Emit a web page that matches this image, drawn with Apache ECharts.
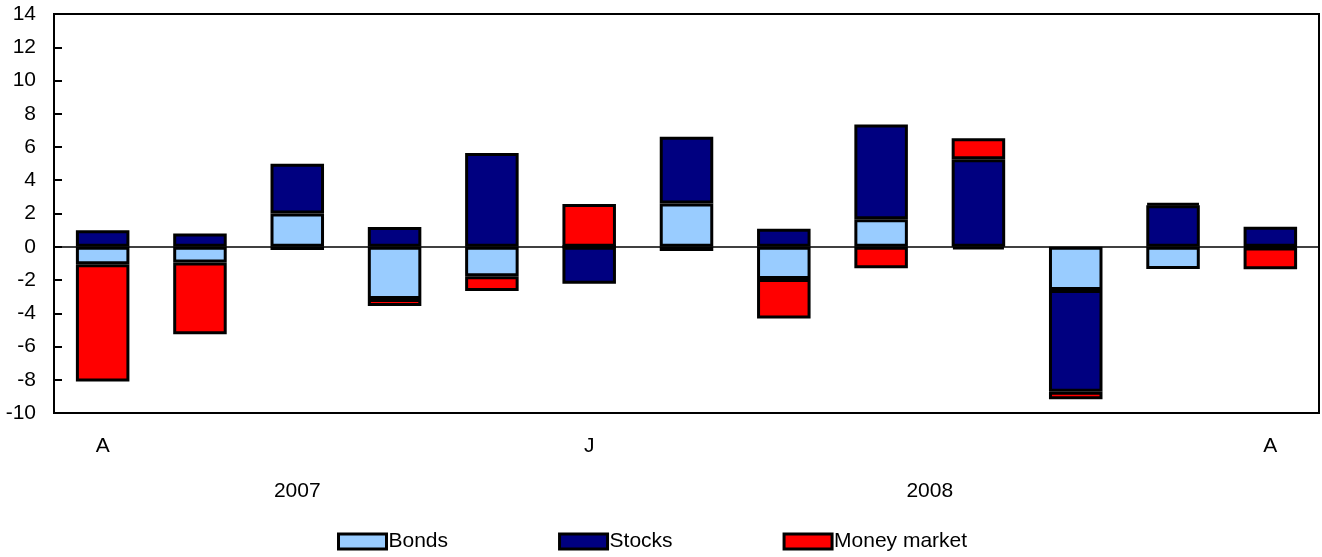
<!DOCTYPE html>
<html>
<head>
<meta charset="utf-8">
<script src="https://cdn.jsdelivr.net/npm/echarts@6/dist/echarts.min.js"></script>
<style>html,body{margin:0;padding:0;background:#fff;}#c{width:1322px;height:557px;}</style>
</head>
<body>
<div id="c"></div>
<script>
// Months Aug 2007 .. Aug 2008
var months = ['A','S','O','N','D','J','F','M','A','M','J','J','A'];
var shownMonthIdx = [0, 5, 12];
var years = ['2007', '2008'];
var monthsPerYear = [5, 8];

var bonds  = [-1.05, -0.94, 2.0, -3.15, -1.78, 0, 2.6, -1.94, 1.65, -0.15, -2.6, -1.34, -0.05];
var stocks = [1.0, 0.8, 3.0, 1.19, 5.64, -2.22, 4.02, 1.08, 5.7, 5.26, -6.12, 2.5, 1.2];
var money  = [-7.05, -4.33, -0.2, -0.42, -0.88, 2.57, -0.25, -2.37, -1.3, 1.26, -0.46, 0.1, -1.3];

var yTicks = {min: -10, max: 14, interval: 2};

// year label centres (in month units)
var yearPos = {};
(function(){ var s = 0; for (var i = 0; i < years.length; i++) { yearPos[(s + monthsPerYear[i] / 2).toFixed(1)] = years[i]; s += monthsPerYear[i]; } })();

var FONT = 'Liberation Sans';
var FS = 21;
var chart = echarts.init(document.getElementById('c'));
var barStyle = function(c){ return {color: c, borderColor: '#000', borderWidth: 3}; };
chart.setOption({
  animation: false,
  textStyle: {fontFamily: FONT},
  grid: {left: 54, right: 3, top: 14, bottom: 144, show: true, borderColor: '#000', borderWidth: 2, backgroundColor: 'transparent'},
  legend: {
    top: 526, left: 332, itemWidth: 48, itemHeight: 15, itemGap: 110,
    icon: 'rect',
    itemStyle: {borderColor: '#000', borderWidth: 3},
    textStyle: {fontFamily: FONT, fontSize: FS, color: '#000', padding: [0,0,0,-3]},
    data: ['Bonds', 'Stocks', 'Money market']
  },
  xAxis: [{
    type: 'category', data: months, position: 'bottom',
    axisLine: {onZero: false, lineStyle: {color: '#000', width: 2}},
    axisTick: {inside: true, length: 7, interval: 0, lineStyle: {color: '#000', width: 2}},
    axisLabel: {
      interval: function(i){ return shownMonthIdx.indexOf(i) >= 0; },
      margin: 23, fontSize: FS, color: '#000', fontFamily: FONT
    }
  }, {
    type: 'value', min: 0, max: months.length, interval: 0.5, position: 'bottom',
    axisLine: {show: false}, axisTick: {show: false}, splitLine: {show: false},
    axisLabel: {
      margin: 68, fontSize: FS, color: '#000', fontFamily: FONT,
      formatter: function(v){ return yearPos[v.toFixed(1)] || ''; }
    }
  }],
  yAxis: {
    type: 'value', min: yTicks.min, max: yTicks.max, interval: yTicks.interval,
    axisLine: {show: true, lineStyle: {color: '#000', width: 2}},
    axisTick: {show: true, inside: true, length: 8, lineStyle: {color: '#000', width: 2}},
    splitLine: {show: false},
    axisLabel: {fontSize: FS, color: '#000', margin: 18, fontFamily: FONT}
  },
  series: [
    {name: 'Bonds', type: 'bar', stack: 'a', data: bonds, barCategoryGap: '45%', itemStyle: barStyle('#99CCFF'),
     markLine: {silent: true, symbol: 'none', label: {show: false}, lineStyle: {color: '#000', width: 1.5, type: 'solid'}, data: [{yAxis: 0}]}},
    {name: 'Stocks', type: 'bar', stack: 'a', data: stocks, barCategoryGap: '45%', itemStyle: barStyle('#000080')},
    {name: 'Money market', type: 'bar', stack: 'a', data: money, barCategoryGap: '45%', itemStyle: barStyle('#FF0000')}
  ]
});
</script>
</body>
</html>
